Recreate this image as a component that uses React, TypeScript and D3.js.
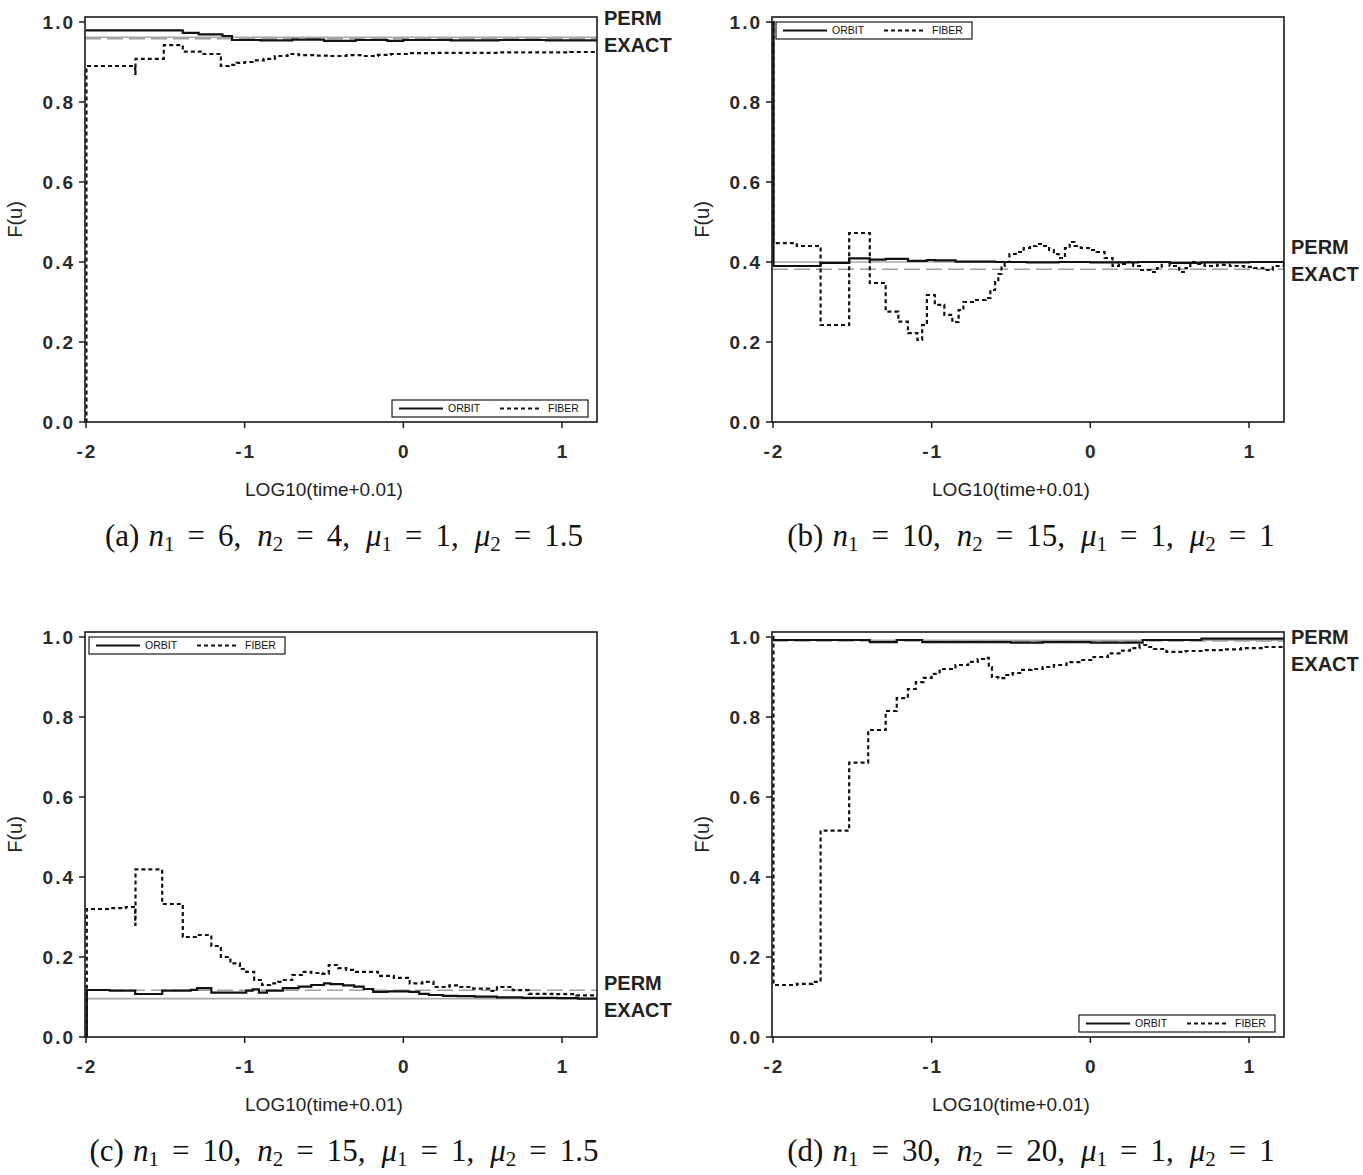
import React from 'react';
import * as d3 from 'd3';

type Pt = [number, number];

const xTicks = [-2, -1, 0, 1];
const yTicks = [0, 0.2, 0.4, 0.6, 0.8, 1.0];
const xTitle = 'LOG10(time+0.01)';
const yTitle = 'F(u)';
const seriesNames = ['ORBIT', 'FIBER'];
const refNames = ['PERM', 'EXACT'];

const panelLetters = ['a', 'b', 'c', 'd'];
const n1Values = ['6', '10', '10', '30'];
const n2Values = ['4', '15', '15', '20'];
const mu1Values = ['1', '1', '1', '1'];
const mu2Values = ['1.5', '1', '1.5', '1'];

// reference levels (solid gray / dashed gray)
const solidRefLevels = [0.962, 0.4, 0.096, 0.992];
const dashedRefLevels = [0.958, 0.382, 0.117, 0.99];

const orbitA: Pt[] = [
  [-2, 0.979], [-1.39, 0.973], [-1.29, 0.969], [-1.14, 0.965], [-1.08, 0.955], [-0.9, 0.954],
  [-0.7, 0.956], [-0.5, 0.953], [-0.3, 0.955], [-0.1, 0.953], [0.0, 0.955], [0.3, 0.954],
  [0.6, 0.955], [0.9, 0.954], [1.22, 0.954],
];
const fiberA: Pt[] = [
  [-2, 0], [-1.997, 0.89], [-1.69, 0.87], [-1.688, 0.908], [-1.51, 0.942], [-1.39, 0.926], [-1.27, 0.92],
  [-1.15, 0.89], [-1.1, 0.893], [-1.05, 0.898], [-1.0, 0.9], [-0.95, 0.904], [-0.88, 0.908],
  [-0.81, 0.915], [-0.73, 0.92], [-0.66, 0.917], [-0.56, 0.916], [-0.46, 0.915], [-0.36, 0.917],
  [-0.26, 0.915], [-0.16, 0.918], [-0.08, 0.92], [0.04, 0.922], [0.2, 0.923], [0.35, 0.923],
  [0.6, 0.924], [0.85, 0.924], [1.05, 0.925], [1.22, 0.925],
];
const orbitB: Pt[] = [
  [-2, 1.0], [-1.997, 0.39], [-1.7, 0.398], [-1.52, 0.409], [-1.39, 0.406], [-1.29, 0.408],
  [-1.15, 0.403], [-1.03, 0.405], [-0.98, 0.404], [-0.85, 0.401], [-0.6, 0.4], [-0.4, 0.399],
  [-0.2, 0.4], [0.0, 0.399], [0.3, 0.4], [0.5, 0.398], [0.7, 0.399], [1.0, 0.4], [1.22, 0.4],
];
const fiberB: Pt[] = [
  [-2, 1.0], [-1.997, 0.447], [-1.85, 0.44], [-1.7, 0.2425], [-1.52, 0.4725], [-1.39, 0.3475],
  [-1.29, 0.276], [-1.21, 0.251], [-1.15, 0.222], [-1.09, 0.205], [-1.06, 0.2425], [-1.03, 0.3175],
  [-0.98, 0.293], [-0.92, 0.268], [-0.87, 0.25], [-0.83, 0.28], [-0.8, 0.3], [-0.72, 0.305],
  [-0.66, 0.31], [-0.63, 0.33], [-0.6, 0.35], [-0.58, 0.37], [-0.56, 0.39], [-0.54, 0.4],
  [-0.51, 0.42], [-0.47, 0.425], [-0.42, 0.435], [-0.38, 0.44], [-0.34, 0.445], [-0.3, 0.44],
  [-0.26, 0.43], [-0.23, 0.42], [-0.2, 0.41], [-0.16, 0.435], [-0.13, 0.45], [-0.1, 0.44],
  [-0.06, 0.435], [-0.01, 0.43], [0.04, 0.425], [0.09, 0.41], [0.14, 0.39], [0.18, 0.395],
  [0.23, 0.4], [0.27, 0.39], [0.32, 0.38], [0.38, 0.375], [0.42, 0.385], [0.45, 0.4],
  [0.5, 0.39], [0.56, 0.375], [0.6, 0.385], [0.63, 0.4], [0.68, 0.395], [0.72, 0.39],
  [0.8, 0.393], [0.88, 0.39], [0.97, 0.388], [1.03, 0.385], [1.09, 0.38], [1.15, 0.39], [1.22, 0.4],
];
const orbitC: Pt[] = [
  [-2, 0], [-1.995, 0.1175], [-1.85, 0.116], [-1.69, 0.1075], [-1.52, 0.116], [-1.34, 0.118],
  [-1.3, 0.122], [-1.21, 0.111], [-1.08, 0.111], [-0.99, 0.116], [-0.95, 0.119], [-0.91, 0.111],
  [-0.86, 0.116], [-0.76, 0.122], [-0.66, 0.126], [-0.58, 0.13], [-0.5, 0.134], [-0.46, 0.132],
  [-0.38, 0.129], [-0.31, 0.126], [-0.25, 0.12], [-0.19, 0.113], [-0.1, 0.114], [0.04, 0.113],
  [0.1, 0.108], [0.16, 0.105], [0.25, 0.103], [0.34, 0.102], [0.45, 0.101], [0.59, 0.099],
  [0.75, 0.098], [0.97, 0.097], [1.1, 0.096], [1.22, 0.094],
];
const fiberC: Pt[] = [
  [-2, 0], [-1.995, 0.32], [-1.85, 0.322], [-1.75, 0.325], [-1.69, 0.28], [-1.688, 0.419],
  [-1.52, 0.3325], [-1.39, 0.25], [-1.3, 0.255], [-1.21, 0.2275], [-1.15, 0.2], [-1.09, 0.184],
  [-1.03, 0.17], [-0.99, 0.163], [-0.94, 0.1425], [-0.89, 0.13], [-0.84, 0.134], [-0.79, 0.138],
  [-0.76, 0.1425], [-0.7, 0.155], [-0.64, 0.163], [-0.58, 0.16], [-0.51, 0.158], [-0.47, 0.18],
  [-0.41, 0.172], [-0.36, 0.168], [-0.31, 0.163], [-0.23, 0.163], [-0.16, 0.153], [-0.06, 0.148],
  [0.04, 0.134], [0.12, 0.138], [0.19, 0.125], [0.29, 0.129], [0.36, 0.125], [0.44, 0.121],
  [0.54, 0.115], [0.59, 0.125], [0.69, 0.117], [0.79, 0.108], [0.94, 0.107], [1.09, 0.104], [1.22, 0.104],
];
const orbitD: Pt[] = [
  [-2, 0.9925], [-1.39, 0.987], [-1.22, 0.9925], [-1.06, 0.987], [-0.5, 0.986], [-0.3, 0.987],
  [0.0, 0.986], [0.33, 0.9925], [0.7, 0.996], [1.22, 0.996],
];
const fiberD: Pt[] = [
  [-2, 1.0], [-1.997, 0.13], [-1.85, 0.133], [-1.75, 0.138], [-1.7, 0.516], [-1.52, 0.686],
  [-1.4, 0.7675], [-1.29, 0.815], [-1.22, 0.847], [-1.15, 0.87], [-1.1, 0.887], [-1.05, 0.898],
  [-1.0, 0.908], [-0.95, 0.92], [-0.85, 0.93], [-0.77, 0.938], [-0.71, 0.945], [-0.67, 0.948],
  [-0.64, 0.925], [-0.62, 0.9], [-0.58, 0.897], [-0.53, 0.905], [-0.49, 0.91], [-0.43, 0.918],
  [-0.37, 0.92], [-0.3, 0.925], [-0.23, 0.93], [-0.15, 0.937], [-0.06, 0.9425], [0.02, 0.95],
  [0.11, 0.959], [0.2, 0.966], [0.25, 0.972], [0.31, 0.98], [0.36, 0.975], [0.4, 0.97],
  [0.48, 0.963], [0.6, 0.965], [0.72, 0.967], [0.84, 0.969], [0.95, 0.972], [1.08, 0.975], [1.22, 0.977],
];

const orbitSeries = [orbitA, orbitB, orbitC, orbitD];
const fiberSeries = [fiberA, fiberB, fiberC, fiberD];

// layout only
const layouts = [
  { left: 85, top: 17, legend: 'br', labelShift: -7.5 },
  { left: 772, top: 17, legend: 'tl', labelShift: -5.5 },
  { left: 85, top: 632, legend: 'tl', labelShift: 1.5 },
  { left: 772, top: 632, legend: 'br', labelShift: 9 },
];
const PW = 512;
const PH = 405;
const SANS = "'Liberation Sans', Arial, sans-serif";
const SERIF = "'Liberation Serif', 'Times New Roman', serif";
const INK = '#1a1a1a';

function Caption({ cx, cy, i }: { cx: number; cy: number; i: number }) {
  const fs = 31;
  const sfs = 21;
  const part = (sym: string, idx: string, val: string, last: boolean, key: string) => (
    <React.Fragment key={key}>
      <tspan fontStyle="italic" dx={key === 'p1' ? 9 : 16}>{sym}</tspan>
      <tspan fontSize={sfs} dy={5}>{idx}</tspan>
      <tspan dy={-5} dx={13}>=</tspan>
      <tspan dx={13}>{val + (last ? '' : ',')}</tspan>
    </React.Fragment>
  );
  return (
    <text x={cx} y={cy} textAnchor="middle" fontFamily={SERIF} fontSize={fs} fill="#111">
      <tspan>({panelLetters[i]})</tspan>
      {part('n', '1', n1Values[i], false, 'p1')}
      {part('n', '2', n2Values[i], false, 'p2')}
      {part('μ', '1', mu1Values[i], false, 'p3')}
      {part('μ', '2', mu2Values[i], true, 'p4')}
    </text>
  );
}

function Panel({ i }: { i: number }) {
  const L = layouts[i];
  const left = L.left, top = L.top, right = left + PW, bottom = top + PH;
  const x = d3.scaleLinear().domain([-2, 1]).range([left + 1, left + 477]);
  const y = d3.scaleLinear().domain([0, 1]).range([bottom, bottom - 400]);
  const line = d3.line<Pt>().x(d => x(d[0])).y(d => y(d[1])).curve(d3.curveStepAfter);
  const clipId = `clip-${i}`;
  const lw = 196, lh = 17;
  const lx = L.legend === 'br' ? right - 9 - lw : left + 4;
  const ly = L.legend === 'br' ? bottom - 5 - lh : top + 5;
  const hi = Math.max(solidRefLevels[i], dashedRefLevels[i]);
  const lo = Math.min(solidRefLevels[i], dashedRefLevels[i]);
  const mid = (y(hi) + y(lo)) / 2 + L.labelShift;
  const axisCx = (x(-2) + x(1)) / 2;
  return (
    <g>
      <defs>
        <clipPath id={clipId}>
          <rect x={left} y={top} width={PW} height={PH} />
        </clipPath>
      </defs>
      <g clipPath={`url(#${clipId})`}>
        <line x1={left} x2={right} y1={y(solidRefLevels[i])} y2={y(solidRefLevels[i])} stroke="#a8a8a8" strokeWidth={1.6} />
        <line x1={left} x2={right} y1={y(dashedRefLevels[i])} y2={y(dashedRefLevels[i])} stroke="#a0a0a0" strokeWidth={1.6} strokeDasharray="16,6" />
        <path d={line(orbitSeries[i]) || ''} fill="none" stroke="#111" strokeWidth={2.2} />
        <path d={line(fiberSeries[i]) || ''} fill="none" stroke="#111" strokeWidth={2.2} strokeDasharray="4,3" />
      </g>
      <rect x={left} y={top} width={PW} height={PH} fill="none" stroke={INK} strokeWidth={1.6} />
      {yTicks.map(t => (
        <g key={`y${t}`}>
          <line x1={left - 6} x2={left} y1={y(t)} y2={y(t)} stroke={INK} strokeWidth={1.5} />
          <text x={left - 10} y={y(t)} dy="0.36em" textAnchor="end" fontFamily={SANS} fontWeight="bold" fontSize={19} letterSpacing={2} fill="#2a2a2a">
            {d3.format('.1f')(t)}
          </text>
        </g>
      ))}
      {xTicks.map(t => (
        <g key={`x${t}`}>
          <line x1={x(t)} x2={x(t)} y1={bottom} y2={bottom + 6} stroke={INK} strokeWidth={1.5} />
          <text x={x(t) + 1} y={bottom + 29} dy="0.36em" textAnchor="middle" fontFamily={SANS} fontWeight="bold" fontSize={19} letterSpacing={2} fill="#2a2a2a">
            {String(t)}
          </text>
        </g>
      ))}
      <text x={axisCx} y={bottom + 67} dy="0.35em" textAnchor="middle" fontFamily={SANS} fontSize={19} fill="#222">{xTitle}</text>
      <text transform={`translate(${left - 70},${top + PH / 2}) rotate(-90)`} dy="0.35em" textAnchor="middle" fontFamily={SANS} fontSize={20} fill="#222">{yTitle}</text>
      <text x={right + 7} y={mid - 13} dy="0.35em" fontFamily={SANS} fontWeight="bold" fontSize={20} fill="#222">{refNames[0]}</text>
      <text x={right + 7} y={mid + 14} dy="0.35em" fontFamily={SANS} fontWeight="bold" fontSize={20} fill="#222">{refNames[1]}</text>
      <g>
        <rect x={lx} y={ly} width={lw} height={lh} fill="#fff" stroke={INK} strokeWidth={1.2} />
        <line x1={lx + 7} x2={lx + 51} y1={ly + lh / 2} y2={ly + lh / 2} stroke="#111" strokeWidth={1.8} />
        <text x={lx + 56} y={ly + lh / 2} dy="0.35em" fontFamily={SANS} fontSize={10.5} fill="#111">{seriesNames[0]}</text>
        <line x1={lx + 108} x2={lx + 148} y1={ly + lh / 2} y2={ly + lh / 2} stroke="#111" strokeWidth={1.8} strokeDasharray="4,3" />
        <text x={lx + 156} y={ly + lh / 2} dy="0.35em" fontFamily={SANS} fontSize={10.5} fill="#111">{seriesNames[1]}</text>
      </g>
      <Caption cx={axisCx + 20} cy={bottom + 124} i={i} />
    </g>
  );
}

export default function App() {
  return (
    <svg width={1363} height={1175} style={{ position: 'absolute', left: 0, top: 0, background: '#fff' }}>
      <rect x={0} y={0} width={1363} height={1175} fill="#fff" />
      {[0, 1, 2, 3].map(i => <Panel key={i} i={i} />)}
    </svg>
  );
}
